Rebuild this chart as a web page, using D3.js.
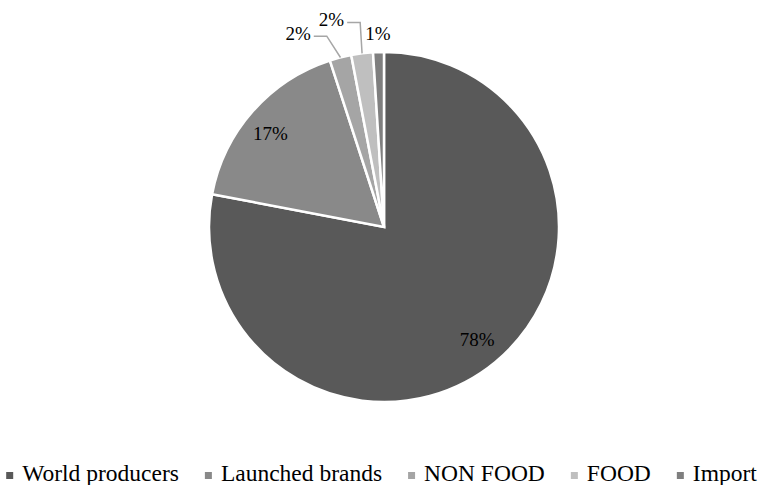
<!DOCTYPE html>
<html><head><meta charset="utf-8">
<script src="https://cdn.jsdelivr.net/npm/d3@7"></script>
</head><body style="margin:0">
<svg id="c" width="763" height="485"></svg>
<script>
const categories = ["World producers", "Launched brands", "NON FOOD", "FOOD", "Import"];
const values = [78, 17, 2, 2, 1];
const labels = ["78%", "17%", "2%", "2%", "1%"];
const colors = ["#595959", "#898989", "#a5a5a5", "#bfbfbf", "#7f7f7f"];

const W = 763, cx = 384, cy = 227, R = 175;
const svg = d3.select("#c");

const pie = d3.pie().sort(null).value(d => d)(values);
const arc = d3.arc().innerRadius(0).outerRadius(R);
const g = svg.append("g").attr("transform", `translate(${cx},${cy})`);

g.selectAll("path").data(pie).join("path")
  .attr("d", arc).attr("fill", (d, i) => colors[i])
  .attr("stroke", "#fff").attr("stroke-width", 2.5).attr("stroke-linejoin", "miter");

// label placement (layout only)
const place = [
  {r: 146, da: 0, lead: false},
  {r: 147, da: -2, lead: false},
  {r: 212, da: -9.5, lead: true},
  {r: 214, da: -7, lead: true},
  {r: 194, da: 0, lead: false}
];
const toXY = (deg, r) => { const a = deg * Math.PI / 180; return [r * Math.sin(a), -r * Math.cos(a)]; };

pie.forEach((d, i) => {
  const mid = (d.startAngle + d.endAngle) / 2 * 180 / Math.PI;
  const p = place[i];
  const [x, y] = toXY(mid + p.da, p.r);
  const t = g.append("text").attr("x", x).attr("y", y + 6.5)
    .attr("text-anchor", "middle")
    .attr("font-family", "Liberation Serif").attr("font-size", 19)
    .style("font-family", '"Liberation Serif"').style("font-size", "19px")
    .attr("fill", "#000").text(labels[i]);
  if (p.lead) {
    const w = t.node().getComputedTextLength();
    const [ex, ey] = toXY(mid, R);
    const x0 = x + w / 2 + 3, y0 = y + 3;
    const xe = Math.min(x0 + 13, ex);
    g.append("polyline").attr("points", `${x0},${y0} ${xe},${y0} ${ex},${ey}`)
      .attr("fill", "none").attr("stroke", "#a6a6a6").attr("stroke-width", 1.5);
  }
});

// legend
const lg = svg.append("g");
const items = lg.selectAll("g").data(categories).join("g");
items.append("rect").attr("width", 7).attr("height", 7).attr("y", 472).attr("fill", (d, i) => colors[i]);
items.append("text").attr("x", 16).attr("y", 481)
  .attr("font-family", "Liberation Serif").attr("font-size", 23.5)
  .style("font-family", '"Liberation Serif"').style("font-size", "23.5px")
  .attr("fill", "#000").text(d => d);
let xpos = 0;
items.each(function () {
  const it = d3.select(this);
  it.attr("transform", `translate(${xpos},0)`);
  xpos += 16 + it.select("text").node().getComputedTextLength() + 26;
});
const total = xpos - 26;
lg.attr("transform", `translate(${(W - total) / 2},0)`);
</script>
</body></html>
